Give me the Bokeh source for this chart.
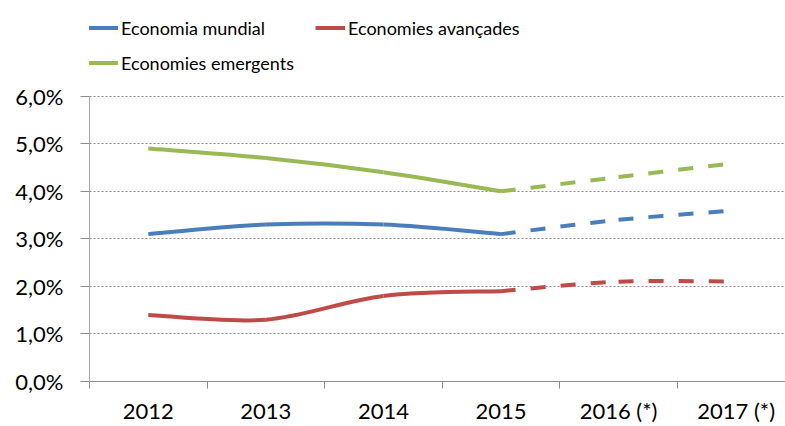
from bokeh.plotting import figure
from bokeh.models import Range1d, FixedTicker, Legend, LegendItem, ColumnDataSource
from bokeh.embed import file_html
from bokeh.resources import INLINE

# ---- data ----
years = ["2012", "2013", "2014", "2015", "2016 (*)", "2017 (*)"]
economia_mundial = [3.1, 3.3, 3.3, 3.1, 3.4, 3.6]
economies_avancades = [1.4, 1.3, 1.8, 1.9, 2.1, 2.1]
economies_emergents = [4.9, 4.7, 4.4, 4.0, 4.3, 4.6]
y_ticks = [0, 1, 2, 3, 4, 5, 6]
y_tick_labels = ["0,0%", "1,0%", "2,0%", "3,0%", "4,0%", "5,0%", "6,0%"]
last_actual = "2015"

series = [
    ("Economia mundial", economia_mundial, "#4A7EBB"),
    ("Economies avançades", economies_avancades, "#BE4B48"),
    ("Economies emergents", economies_emergents, "#98B954"),
]

xs_all = [i + 0.5 for i in range(len(years))]
split = years.index(last_actual)


def smooth_segments(xs, ys):
    n = len(xs)
    d = dict(x0=[], y0=[], x1=[], y1=[], cx0=[], cy0=[], cx1=[], cy1=[])
    for i in range(n - 1):
        xp, yp = (xs[i - 1], ys[i - 1]) if i > 0 else (xs[i], ys[i])
        xn, yn = (xs[i + 2], ys[i + 2]) if i + 2 < n else (xs[i + 1], ys[i + 1])
        d["x0"].append(xs[i]); d["y0"].append(ys[i])
        d["x1"].append(xs[i + 1]); d["y1"].append(ys[i + 1])
        d["cx0"].append(xs[i] + (xs[i + 1] - xp) / 6.0)
        d["cy0"].append(ys[i] + (ys[i + 1] - yp) / 6.0)
        d["cx1"].append(xs[i + 1] - (xn - xs[i]) / 6.0)
        d["cy1"].append(ys[i + 1] - (yn - ys[i]) / 6.0)
    return d


FONT = "Lato"

# frame spans the legend area too; the y axis itself is bounded to 0..6
p = figure(width=785, height=426, output_backend="svg", toolbar_location=None,
           x_range=Range1d(0, 5.92), y_range=Range1d(0, 7.846),
           min_border_left=89, min_border_right=0, min_border_top=8, min_border_bottom=44)
p.outline_line_color = None
p.background_fill_color = "white"
p.border_fill_color = "white"

# grid
p.xgrid.grid_line_color = None
p.ygrid.grid_line_color = "#8C8C8C"
p.ygrid.grid_line_dash = "2 2"
p.ygrid.grid_line_width = 1

# y axis
p.yaxis.ticker = FixedTicker(ticks=y_ticks)
p.yaxis.bounds = (y_ticks[0], y_ticks[-1])
p.yaxis.major_label_overrides = {t: l for t, l in zip(y_ticks, y_tick_labels)}
p.yaxis.axis_line_color = "#A6A6A6"
p.yaxis.axis_line_width = 1
p.yaxis.major_tick_line_color = "#8C8C8C"
p.yaxis.major_tick_out = 9
p.yaxis.major_tick_in = 0
p.yaxis.minor_tick_line_color = None
p.yaxis.major_label_standoff = 17
p.yaxis.major_label_text_font = FONT
p.yaxis.major_label_text_font_size = "22px"
p.yaxis.major_label_text_color = "#000000"

# x axis
p.xaxis.ticker = FixedTicker(ticks=xs_all, minor_ticks=list(range(len(years) + 1)))
p.xaxis.major_label_overrides = {x: y for x, y in zip(xs_all, years)}
p.xaxis.axis_line_color = "#8C8C8C"
p.xaxis.major_tick_line_color = None
p.xaxis.major_tick_out = 0
p.xaxis.major_tick_in = 0
p.xaxis.minor_tick_line_color = "#8C8C8C"
p.xaxis.minor_tick_out = 7
p.xaxis.minor_tick_in = 0
p.xaxis.major_label_standoff = 8
p.xaxis.major_label_text_font = FONT
p.xaxis.major_label_text_font_size = "22px"
p.xaxis.major_label_text_color = "#000000"

renderers = []
for name, vals, color in series:
    solid = ColumnDataSource(smooth_segments(xs_all[:split + 1], vals[:split + 1]))
    dashed = ColumnDataSource(smooth_segments(xs_all[split:], vals[split:]))
    p.bezier("x0", "y0", "x1", "y1", "cx0", "cy0", "cx1", "cy1", source=dashed,
             line_color=color, line_width=4, line_dash="15 15", line_cap="butt")
    r = p.bezier("x0", "y0", "x1", "y1", "cx0", "cy0", "cx1", "cy1", source=solid,
                 line_color=color, line_width=4, line_cap="butt")
    renderers.append((name, r))

legend_locs = [(-1, 338), (226, 338), (-1, 303)]
for (name, r), loc in zip(renderers, legend_locs):
    lg = Legend(items=[LegendItem(label=name, renderers=[r])], location=loc,
                orientation="horizontal", padding=0, margin=0, spacing=0,
                glyph_width=30, glyph_height=31, label_height=31, label_standoff=3,
                border_line_color=None, background_fill_alpha=0,
                label_text_font=FONT, label_text_font_size="18px",
                label_text_color="#000000")
    p.add_layout(lg, "center")

open("out.html", "w").write(file_html(p, INLINE))
